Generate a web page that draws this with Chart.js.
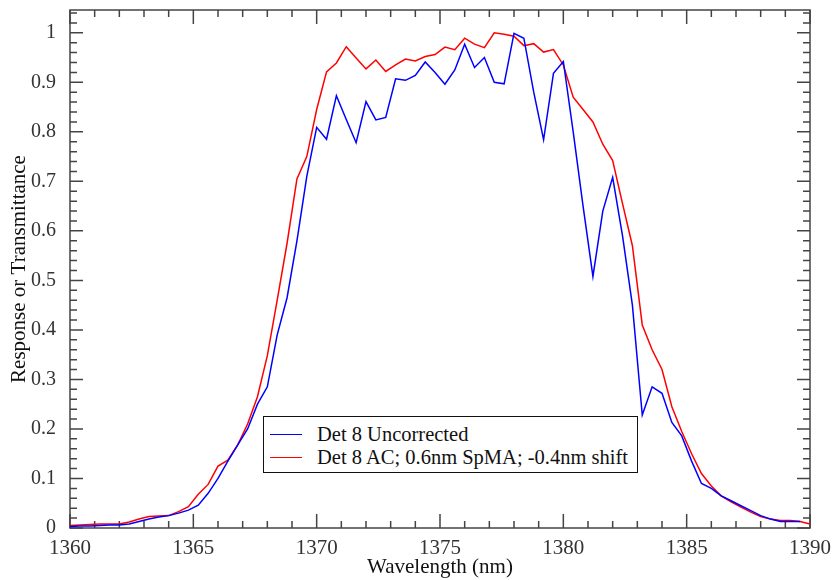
<!DOCTYPE html>
<html lang="en">
<head>
  <meta charset="UTF-8" />
  <title>Det 8 response</title>
  <script src="https://cdn.jsdelivr.net/npm/chart.js"></script>
  <style>
    body { margin: 0; background: #fff; }
    #wrap { position: relative; width: 837px; height: 580px; }
    #legendBox {
      position: absolute; left: 263px; top: 416px; width: 375px; height: 57px;
      box-sizing: border-box; border: 1px solid #111; background: #fff;
      font-family: "Liberation Serif", "Times New Roman", serif; font-size: 20.5px; color: #111;
    }
    .item { position: absolute; left: 6px; height: 22px; display: flex; align-items: center; white-space: nowrap; }
    .swatch { width: 32px; height: 0; border-top: 1.5px solid; margin-right: 15px; }
  </style>
</head>
<body>
  <div id="wrap">
    <canvas id="chart" width="837" height="580"></canvas>
    <div id="legendBox"></div>
  </div>

  <script>
    // wavelength grid (nm)
    const wavelength = [
      1360.0, 1360.4, 1360.8, 1361.2, 1361.6, 1362.0, 1362.4, 1362.8, 1363.2, 1363.6,
      1364.0, 1364.4, 1364.8, 1365.2, 1365.6, 1366.0, 1366.4, 1366.8, 1367.2, 1367.6,
      1368.0, 1368.4, 1368.8, 1369.2, 1369.6, 1370.0, 1370.4, 1370.8, 1371.2, 1371.6,
      1372.0, 1372.4, 1372.8, 1373.2, 1373.6, 1374.0, 1374.4, 1374.8, 1375.2, 1375.6,
      1376.0, 1376.4, 1376.8, 1377.2, 1377.6, 1378.0, 1378.4, 1378.8, 1379.2, 1379.6,
      1380.0, 1380.4, 1380.8, 1381.2, 1381.6, 1382.0, 1382.4, 1382.8, 1383.2, 1383.6,
      1384.0, 1384.4, 1384.8, 1385.2, 1385.6, 1386.0, 1386.4, 1386.8, 1387.2, 1387.6,
      1388.0, 1388.4, 1388.8, 1389.2, 1389.6, 1390.0
    ];

    const uncorrected = [
      0.003, 0.004, 0.004, 0.005, 0.006, 0.006, 0.008, 0.013, 0.018, 0.022,
      0.025, 0.030, 0.036, 0.046, 0.070, 0.100, 0.135, 0.168, 0.200, 0.250,
      0.285, 0.390, 0.465, 0.580, 0.710, 0.809, 0.785, 0.873, 0.825, 0.778,
      0.861, 0.824, 0.829, 0.907, 0.904, 0.914, 0.941, 0.920, 0.896, 0.925,
      0.977, 0.930, 0.950, 0.900, 0.897, 0.999, 0.989, 0.880, 0.784, 0.918,
      0.942, 0.800, 0.650, 0.508, 0.640, 0.708, 0.590, 0.450, 0.228, 0.285,
      0.272, 0.213, 0.186, 0.135, 0.090, 0.080, 0.065, 0.055, 0.045, 0.035,
      0.025, 0.018, 0.013, 0.013, 0.013, null
    ];

    const corrected = [
      0.005, 0.006, 0.007, 0.008, 0.008, 0.008, 0.012, 0.018, 0.023, 0.024,
      0.025, 0.033, 0.043, 0.068, 0.088, 0.125, 0.137, 0.168, 0.210, 0.265,
      0.348, 0.460, 0.575, 0.705, 0.750, 0.845, 0.921, 0.939, 0.972, 0.949,
      0.927, 0.945, 0.922, 0.935, 0.947, 0.943, 0.952, 0.956, 0.971, 0.966,
      0.989, 0.977, 0.970, 1.000, 0.997, 0.993, 0.974, 0.978, 0.961, 0.966,
      0.935, 0.870, 0.845, 0.820, 0.775, 0.742, 0.655, 0.570, 0.410, 0.360,
      0.320, 0.245, 0.195, 0.150, 0.110, 0.085, 0.065, 0.053, 0.042, 0.032,
      0.023, 0.018, 0.015, 0.015, 0.013, 0.008
    ];

    const seriesNames = ['Det 8 Uncorrected', 'Det 8 AC; 0.6nm SpMA; -0.4nm shift'];
    const xTicks = [1360, 1365, 1370, 1375, 1380, 1385, 1390];
    const yTicks = [0, 0.1, 0.2, 0.3, 0.4, 0.5, 0.6, 0.7, 0.8, 0.9, 1];

    const serif = '"Liberation Serif", "Times New Roman", serif';

    // frame + inward ticks on all four sides, like the original plot
    const frameTicks = {
      id: 'frameTicks',
      beforeDatasetsDraw(chart) {
        const { ctx, chartArea: a, scales: { x, y } } = chart;
        ctx.save();
        ctx.strokeStyle = '#444';
        ctx.lineWidth = 1.5;
        ctx.strokeRect(a.left, a.top, a.width, a.height);
        ctx.beginPath();
        for (let i = 0; i <= 30; i++) {
          const px = x.getPixelForValue(1360 + i);
          const len = i % 5 === 0 ? 14 : 7;
          ctx.moveTo(px, a.bottom); ctx.lineTo(px, a.bottom - len);
          ctx.moveTo(px, a.top); ctx.lineTo(px, a.top + len);
        }
        for (let i = 0; i <= 52; i++) {
          const py = y.getPixelForValue(i * 0.02);
          const len = i % 5 === 0 ? 13 : 7;
          ctx.moveTo(a.left, py); ctx.lineTo(a.left + len, py);
          ctx.moveTo(a.right, py); ctx.lineTo(a.right - len, py);
        }
        ctx.stroke();
        ctx.restore();
      }
    };

    const toPoints = vals => wavelength.map((w, i) => ({ x: w, y: vals[i] }));

    const chart = new Chart(document.getElementById('chart'), {
      type: 'line',
      data: {
        datasets: [
          { label: seriesNames[0], data: toPoints(uncorrected), borderColor: '#0000ff', borderWidth: 1.5, pointRadius: 0, tension: 0, clip: false },
          { label: seriesNames[1], data: toPoints(corrected), borderColor: '#ff0000', borderWidth: 1.5, pointRadius: 0, tension: 0, clip: false }
        ]
      },
      options: {
        responsive: false,
        animation: false,
        layout: { padding: { top: 10, right: 27, left: 0, bottom: 0 } },
        plugins: { legend: { display: false }, tooltip: { enabled: false } },
        scales: {
          x: {
            type: 'linear', min: 1360, max: 1390,
            afterBuildTicks: s => { s.ticks = xTicks.map(v => ({ value: v })); },
            afterFit: s => { s.height = 52; s.paddingLeft = 0; s.paddingRight = 0; },
            grid: { display: false }, border: { display: false },
            ticks: { color: '#333', padding: 0, maxRotation: 0, font: { family: serif, size: 21 }, callback: v => String(v) },
            title: { display: true, text: 'Wavelength (nm)', color: '#111', padding: { top: 0, bottom: 0 }, font: { family: serif, size: 21 } }
          },
          y: {
            min: 0, max: 1.046,
            afterBuildTicks: s => { s.ticks = yTicks.map(v => ({ value: v })); },
            afterFit: s => { s.width = 70; s.paddingTop = 0; s.paddingBottom = 0; },
            grid: { display: false }, border: { display: false },
            ticks: { color: '#333', padding: 6, font: { family: serif, size: 20 }, callback: v => String(v) },
            title: { display: true, text: 'Response or Transmittance', color: '#111', padding: { top: 7, bottom: 0 }, font: { family: serif, size: 21 } }
          }
        }
      },
      plugins: [frameTicks]
    });

    // legend box inside the plot
    const box = document.getElementById('legendBox');
    chart.data.datasets.forEach((ds, i) => {
      const row = document.createElement('div');
      row.className = 'item';
      row.style.top = (6 + i * 23) + 'px';
      row.innerHTML = '<span class="swatch" style="border-color:' + ds.borderColor + '"></span><span>' + ds.label + '</span>';
      box.appendChild(row);
    });
  </script>
</body>
</html>
